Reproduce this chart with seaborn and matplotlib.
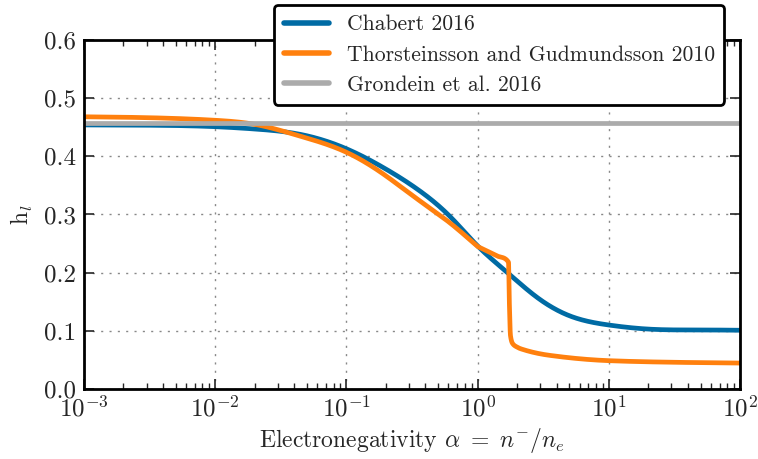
import numpy as np
import pandas as pd
import matplotlib
matplotlib.use("Agg")
import matplotlib.pyplot as plt
import seaborn as sns

# Data
alpha_chabert = [1e-3, 3e-3, 1e-2, 2e-2, 4.4e-2, 0.1, 0.19, 0.345, 0.62, 1.0, 1.67, 2.82, 5.0, 10.0, 20.0, 50.0, 100.0]
h_chabert = [0.454, 0.4535, 0.451, 0.447, 0.438, 0.413, 0.381, 0.344, 0.296, 0.246, 0.201, 0.158, 0.126, 0.110, 0.103, 0.1015, 0.101]

alpha_thor_low = [1e-3, 3e-3, 1e-2, 2e-2, 4.4e-2, 0.1, 0.19, 0.345, 0.62, 0.88, 1.0]
h_thor_low = [0.468, 0.4665, 0.462, 0.455, 0.435, 0.407, 0.370, 0.327, 0.285, 0.256, 0.245]
alpha_thor_high = [1.0, 1.4, 1.72, 1.745, 1.78, 1.85, 2.0, 2.14, 3.5, 10.0, 30.0, 100.0]
h_thor_high = [0.245, 0.229, 0.218, 0.150, 0.092, 0.078, 0.072, 0.069, 0.058, 0.0487, 0.046, 0.0446]

alpha_grond = [1e-3, 100.0]
h_grond = [0.457, 0.457]

labels = ["Chabert 2016", "Thorsteinsson and Gudmundsson 2010", "Grondein et al. 2016"]
colors = ["#006BA4", "#FF800E", "#ABABAB"]

sns.set_style("ticks")
plt.rcParams["font.family"] = ["cmr10", "DejaVu Serif"]
plt.rcParams["mathtext.fontset"] = "cm"
plt.rcParams["axes.formatter.use_mathtext"] = True
plt.rcParams["axes.unicode_minus"] = False

fig = plt.figure(figsize=(7.58, 4.59), dpi=100)
ax = fig.add_axes([84/758, 1-389/459, (740-84)/758, (389-40)/459])


def spline(x, y, xf):
    """Natural cubic spline through the read points (smooth drawing only)."""
    x = np.asarray(x, float); y = np.asarray(y, float)
    n = len(x); h = np.diff(x)
    A = np.zeros((n, n)); b = np.zeros(n)
    A[0, 0] = A[-1, -1] = 1
    for i in range(1, n - 1):
        A[i, i-1] = h[i-1]; A[i, i] = 2*(h[i-1] + h[i]); A[i, i+1] = h[i]
        b[i] = 3*((y[i+1]-y[i])/h[i] - (y[i]-y[i-1])/h[i-1])
    c = np.linalg.solve(A, b)
    idx = np.clip(np.searchsorted(x, xf) - 1, 0, n - 2)
    dx = xf - x[idx]
    bb = (y[1:]-y[:-1])/h - h*(2*c[:-1] + c[1:])/3
    d = (c[1:] - c[:-1])/(3*h)
    return y[idx] + bb[idx]*dx + c[idx]*dx**2 + d[idx]*dx**3


def pchip(x, y, xf):
    x = np.asarray(x, float); y = np.asarray(y, float)
    h = np.diff(x); d = np.diff(y) / h
    m = np.zeros_like(y)
    for k in range(1, len(x) - 1):
        if d[k-1] * d[k] > 0:
            w1 = 2*h[k] + h[k-1]; w2 = h[k] + 2*h[k-1]
            m[k] = (w1 + w2) / (w1/d[k-1] + w2/d[k])
    m[0] = d[0]; m[-1] = d[-1]
    idx = np.clip(np.searchsorted(x, xf) - 1, 0, len(x) - 2)
    t = (xf - x[idx]) / h[idx]
    h00 = 2*t**3 - 3*t**2 + 1; h10 = t**3 - 2*t**2 + t
    h01 = -2*t**3 + 3*t**2; h11 = t**3 - t**2
    return h00*y[idx] + h10*h[idx]*m[idx] + h01*y[idx+1] + h11*h[idx]*m[idx+1]


def dense(xs, ys, f, n=1000):
    lx = np.log10(xs)
    fine = np.unique(np.concatenate([np.linspace(lx[0], lx[-1], n), lx]))
    return 10**fine, f(lx, ys, fine)


xc, yc = dense(alpha_chabert, h_chabert, spline, 1500)
xt1, yt1 = dense(alpha_thor_low, h_thor_low, spline, 1000)
xt2, yt2 = dense(alpha_thor_high, h_thor_high, pchip, 1000)
xt = np.concatenate([xt1, xt2[1:]]); yt = np.concatenate([yt1, yt2[1:]])

df = pd.concat([
    pd.DataFrame({"alpha": xc, "h": yc, "model": labels[0]}),
    pd.DataFrame({"alpha": xt, "h": yt, "model": labels[1]}),
    pd.DataFrame({"alpha": alpha_grond, "h": h_grond, "model": labels[2]}),
])

sns.lineplot(data=df, x="alpha", y="h", hue="model", palette=colors,
             hue_order=labels, linewidth=3.4, ax=ax, sort=False, estimator=None)
ax.set_xscale("log")
ax.set_xlim(1e-3, 1e2)
ax.set_ylim(0, 0.6)
ax.set_yticks([0.0, 0.1, 0.2, 0.3, 0.4, 0.5, 0.6])
ax.set_yticklabels(["0.0", "0.1", "0.2", "0.3", "0.4", "0.5", "0.6"])
ax.grid(True, which="major", linestyle=(0, (1.5, 4.5)), color="#888888", linewidth=1)
for s in ax.spines.values():
    s.set_linewidth(2)
    s.set_color("black")
ax.tick_params(which="both", direction="in", top=True, right=True, labelsize=18)
ax.tick_params(which="major", length=7, width=1.2)
ax.tick_params(which="minor", length=4, width=1)
ax.tick_params(axis="x", pad=5)
ax.tick_params(axis="y", pad=6)
ax.set_xlabel(r"Electronegativity $\alpha\ =\ n^{-}/n_e$", fontsize=17, labelpad=3)
ax.set_ylabel(r"h$_l$", fontsize=17, labelpad=6)

leg = ax.legend(loc="upper left", bbox_to_anchor=(274/758, 1-5/459), bbox_transform=fig.transFigure,
                fontsize=15.6, frameon=True, fancybox=True, edgecolor="black",
                framealpha=1, handlelength=2.1, borderaxespad=0, labelspacing=0.5,
                borderpad=0.45)
leg.get_frame().set_linewidth(2)
for l in leg.get_lines():
    l.set_linewidth(4)

fig.savefig("out.png", dpi=100)
